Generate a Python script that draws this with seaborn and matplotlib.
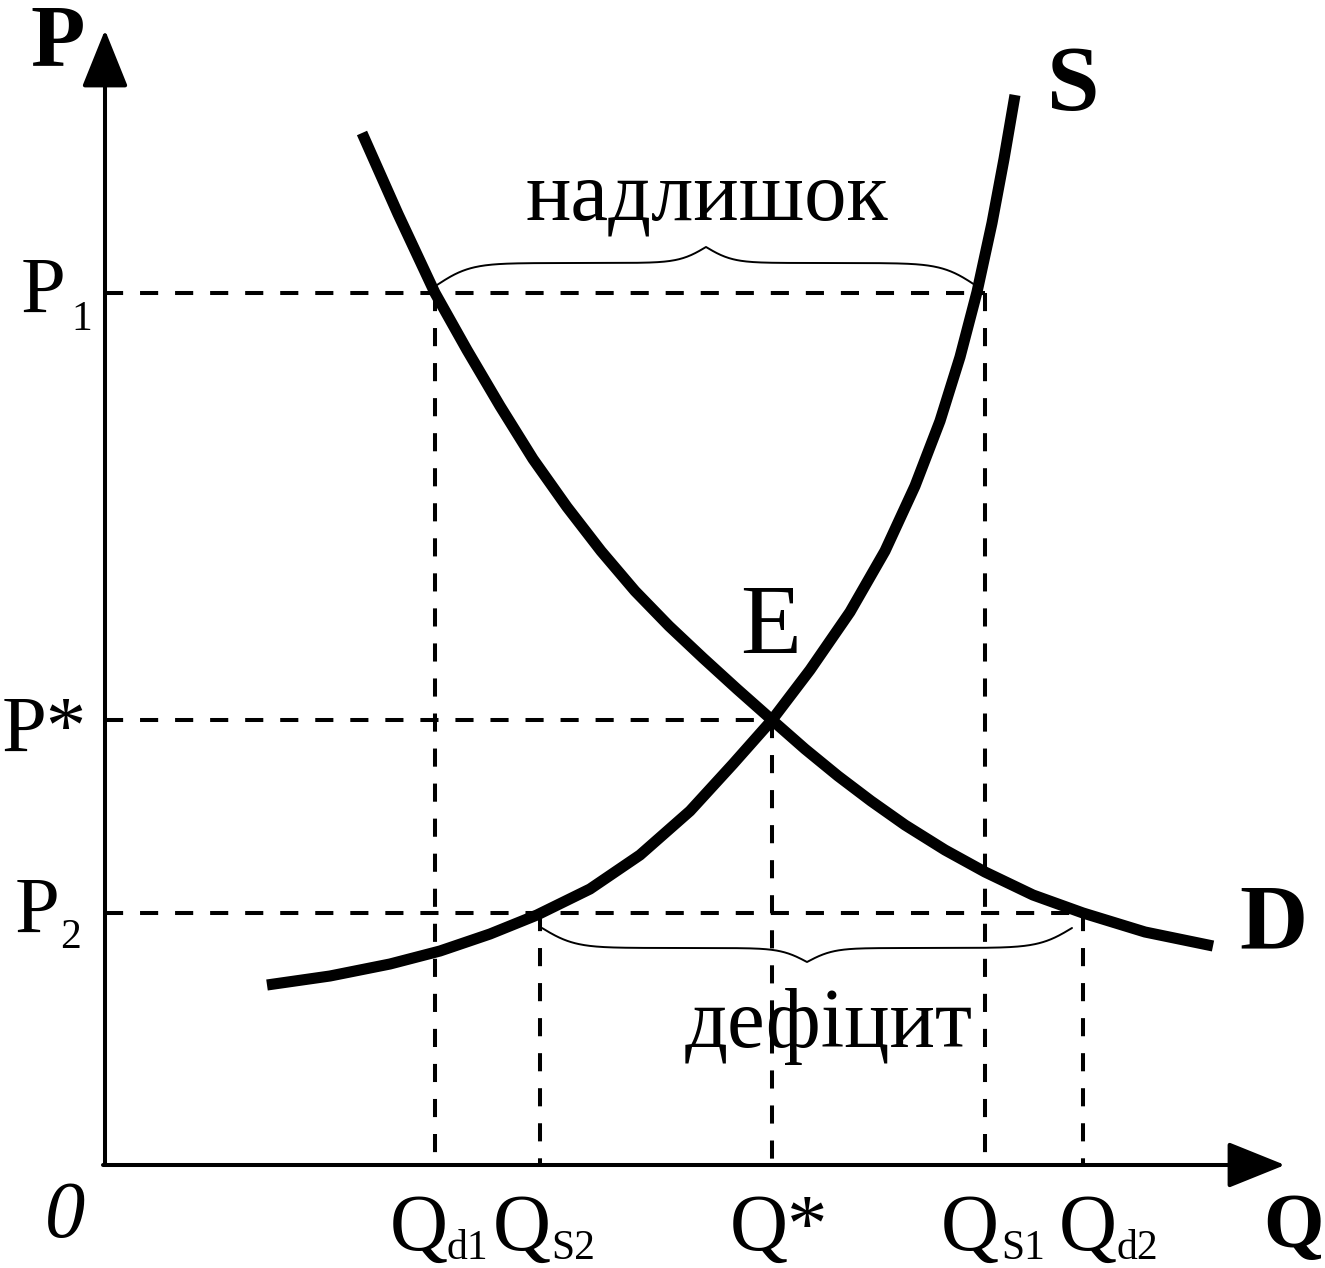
import matplotlib
matplotlib.use("Agg")
import matplotlib.pyplot as plt
import seaborn as sns
import numpy as np
import pandas as pd

# точки на осях
q_d1, q_s2, q_star, q_s1, q_d2 = 3.30, 4.35, 6.67, 8.80, 9.78
p_1, p_star, p_2 = 8.72, 4.45, 2.52

# крива попиту D
demand_q = [2.57, 2.93, 3.30, 3.62, 3.95, 4.28, 4.62, 4.96, 5.30, 5.64, 5.98, 6.32,
            6.67, 7.00, 7.33, 7.66, 8.00, 8.40, 8.80, 9.28, 9.78, 10.40, 11.08]
demand_p = [10.32, 9.51, 8.72, 8.15, 7.59, 7.06, 6.58, 6.14, 5.74, 5.39, 5.07, 4.76,
            4.45, 4.16, 3.89, 3.64, 3.40, 3.15, 2.93, 2.70, 2.52, 2.33, 2.19]

# крива пропозиції S
supply_q = [1.62, 2.25, 2.85, 3.35, 3.85, 4.32, 4.85, 5.35, 5.85, 6.28, 6.67, 7.05,
            7.45, 7.80, 8.10, 8.35, 8.55, 8.72, 8.87, 8.99, 9.10]
supply_p = [1.80, 1.89, 2.01, 2.14, 2.31, 2.50, 2.76, 3.10, 3.54, 4.01, 4.45, 4.95,
            5.53, 6.14, 6.79, 7.44, 8.08, 8.73, 9.42, 10.06, 10.70]

sns.set_style("white")
plt.rcParams['font.family'] = ['Liberation Serif', 'DejaVu Serif']
plt.rcParams['text.color'] = 'black'

fig = plt.figure(figsize=(13.25, 12.68), dpi=100)
ax = fig.add_axes([0, 0, 1, 1])
ax.set_xlim(-1.05, 12.20)
ax.set_ylim(-1.03, 11.65)
ax.axis('off')

curves = pd.concat([
    pd.DataFrame({'Q': demand_q, 'P': demand_p, 'curve': 'D'}),
    pd.DataFrame({'Q': supply_q, 'P': supply_p, 'curve': 'S'}),
])
sns.lineplot(data=curves, x='Q', y='P', units='curve', estimator=None, sort=False,
             color='black', lw=8, ax=ax, legend=False,
             solid_capstyle='butt', solid_joinstyle='round')

# пунктирні лінії
dash = dict(color='black', lw=2.9, linestyle=(0, (4.5, 4.2)))
for p, q in [(p_1, q_s1), (p_star, q_star), (p_2, q_d2)]:
    ax.plot([0, q], [p, p], **dash)
for q, p in [(q_d1, p_1), (q_s1, p_1), (q_star, p_star), (q_s2, p_2), (q_d2, p_2)]:
    ax.plot([q, q], [p, 0], **dash)

# осі зі стрілками
arrow = dict(arrowstyle='-|>,head_length=0.72,head_width=0.29', lw=2.9, color='black',
             shrinkA=0, shrinkB=0, mutation_scale=50)
ax.annotate('', xy=(0, 11.35), xytext=(0, 0), arrowprops=arrow)
ax.annotate('', xy=(11.80, 0), xytext=(-0.02, 0), arrowprops=arrow)


# фігурні дужки
def brace(q0, q1, base, a, b, sign):
    t = np.linspace(0, 1, 401)
    tt = np.where(t <= 0.5, t, 1 - t)
    s1 = 1 / (1 + np.exp(-32 * tt))
    s2 = 1 / (1 + np.exp(-40 * (tt - 0.5)))
    y = a * (s1 - 0.5) * 2 + b * s2 * 2
    ax.plot(q0 + (q1 - q0) * t, base + sign * y, color='black', lw=1.4)


brace(3.32, 8.70, p_1 + 0.08, 0.22, 0.16, 1)
brace(4.37, 9.67, p_2 - 0.15, 0.20, 0.14, -1)

# підписи
big = 58
ax.text(-0.75, 11.00, 'P', fontsize=64, fontweight='bold', ha='left', va='baseline')
ax.text(9.42, 10.55, 'S', fontsize=68, fontweight='bold', ha='left', va='baseline')
ax.text(11.34, 2.17, 'D', fontsize=68, fontweight='bold', ha='left', va='baseline')
ax.text(11.58, -0.82, 'Q', fontsize=56, fontweight='bold', ha='left', va='baseline')
ax.text(-0.60, -0.72, '0', fontsize=big, style='italic', ha='left', va='baseline')
ax.text(6.35, 5.12, 'E', fontsize=72, ha='left', va='baseline')

ax.text(-0.84, 8.52, 'P', fontsize=big, ha='left', va='baseline')
ax.text(-0.34, 8.35, '1', fontsize=30, ha='left', va='baseline')
ax.text(-1.03, 4.13, 'P*', fontsize=big, ha='left', va='baseline')
ax.text(-0.90, 2.32, 'P', fontsize=big, ha='left', va='baseline')
ax.text(-0.45, 2.17, '2', fontsize=30, ha='left', va='baseline')

for x_q, x_sub, sub in [(2.85, 3.41, 'd1'), (3.88, 4.46, 'S2'), (8.36, 8.96, 'S1'), (9.54, 10.11, 'd2')]:
    ax.text(x_q, -0.85, 'Q', fontsize=big, ha='left', va='baseline')
    ax.text(x_sub, -0.94, sub, fontsize=30, ha='left', va='baseline')
ax.text(6.25, -0.85, 'Q*', fontsize=big, ha='left', va='baseline')

ax.text(6.02, 9.45, 'надлишок', fontsize=61, ha='center', va='baseline')
ax.text(7.24, 1.18, 'дефіцит', fontsize=61, ha='center', va='baseline')

plt.savefig('out.png', dpi=100)
